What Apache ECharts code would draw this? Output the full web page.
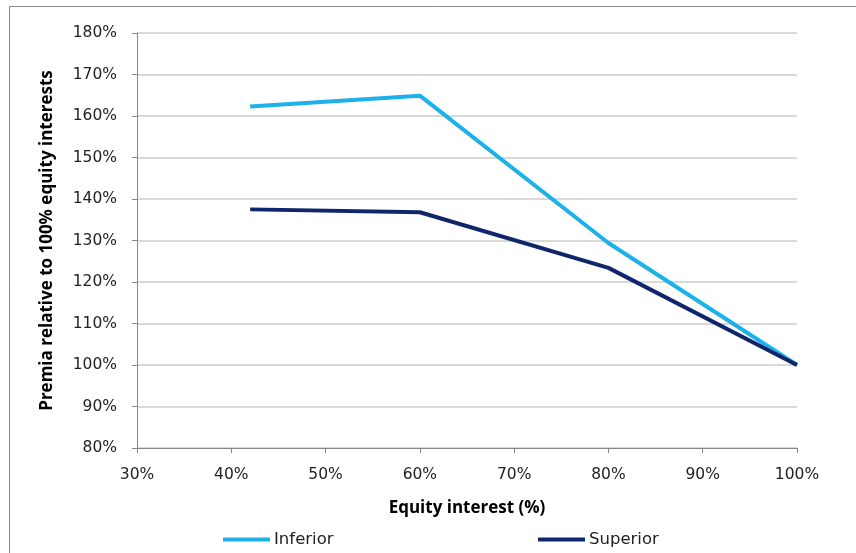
<!DOCTYPE html>
<html>
<head>
<meta charset="utf-8">
<script src="https://cdn.jsdelivr.net/npm/echarts@6/dist/echarts.min.js"></script>
<style>html,body{margin:0;padding:0;background:#fff;}#c{width:856px;height:553px;}</style>
</head>
<body>
<div id="c"></div>
<script>
const equityInterest = [42, 60, 80, 100];
const inferior = [162.3, 164.9, 129.4, 100];
const superior = [137.5, 136.8, 123.4, 100];
const seriesNames = ['Inferior', 'Superior'];
const xTitle = 'Equity interest (%)';
const yTitle = 'Premia relative to 100% equity interests';

const chart = echarts.init(document.getElementById('c'));
const tickFont = {fontFamily: 'DejaVu Sans', fontSize: 15.5, color: '#222'};
const legendText = {fontFamily: 'DejaVu Sans', fontSize: 16.5, color: '#222', padding: [0, 0, 0, -1]};
chart.setOption({
  animation: false,
  graphic: [{type: 'rect', shape: {x: 9.5, y: 6.5, width: 900, height: 600}, style: {fill: 'none', stroke: '#888', lineWidth: 1}, silent: true}],
  grid: {left: 137, right: 59, top: 33, bottom: 105, containLabel: false},
  legend: [
    {data: [seriesNames[0]], left: 218, top: 526, itemWidth: 47, itemHeight: 4, itemGap: 4, icon: 'rect', textStyle: legendText},
    {data: [seriesNames[1]], left: 533, top: 526, itemWidth: 47, itemHeight: 4, itemGap: 4, icon: 'rect', textStyle: legendText}
  ],
  xAxis: {
    type: 'value', min: 30, max: 100, interval: 10,
    name: xTitle, nameLocation: 'middle', nameGap: 52,
    nameTextStyle: {fontFamily: 'Open Sans', fontWeight: 'bold', fontSize: 17, color: '#000'},
    axisLine: {show: true, lineStyle: {color: '#888', width: 1}},
    axisTick: {show: true, length: 5, inside: false, lineStyle: {color: '#888'}},
    axisLabel: Object.assign({formatter: '{value}%', margin: 19}, tickFont),
    splitLine: {show: false}
  },
  yAxis: {
    type: 'value', min: 80, max: 180, interval: 10,
    name: yTitle, nameLocation: 'middle', nameGap: 81,
    nameTextStyle: {fontFamily: 'Open Sans', fontWeight: 'bold', fontSize: 17, color: '#000'},
    axisLine: {show: true, lineStyle: {color: '#888', width: 1}},
    axisTick: {show: true, length: 5, inside: false, lineStyle: {color: '#888'}},
    axisLabel: Object.assign({formatter: '{value}%', margin: 20}, tickFont),
    splitLine: {show: true, lineStyle: {color: '#d9d9d9', width: 2}}
  },
  series: [
    {name: seriesNames[0], type: 'line', data: equityInterest.map((x, i) => [x, inferior[i]]),
     showSymbol: false, lineStyle: {color: '#1DB1E9', width: 4}, itemStyle: {color: '#1DB1E9'}},
    {name: seriesNames[1], type: 'line', data: equityInterest.map((x, i) => [x, superior[i]]),
     showSymbol: false, lineStyle: {color: '#10266C', width: 4}, itemStyle: {color: '#10266C'}}
  ]
});
</script>
</body>
</html>
